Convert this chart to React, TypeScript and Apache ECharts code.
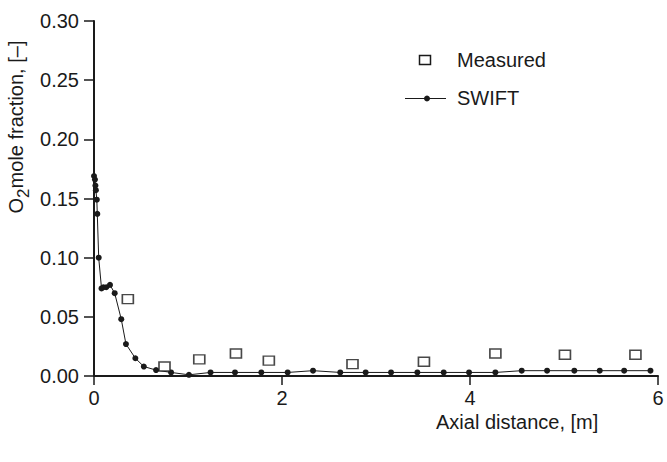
import React, { useEffect, useRef } from "react";
import * as echarts from "echarts";

// SWIFT simulation: axial distance [m], O2 mole fraction [-]
const swiftX = [0.0, 0.01, 0.015, 0.02, 0.03, 0.035, 0.05, 0.08, 0.1, 0.13, 0.17, 0.22, 0.29, 0.34, 0.44, 0.53, 0.66, 0.82, 1.01, 1.24, 1.5, 1.78, 2.06, 2.33, 2.62, 2.89, 3.16, 3.44, 3.72, 3.99, 4.27, 4.55, 4.82, 5.11, 5.38, 5.64, 5.92];
const swiftY = [0.169, 0.166, 0.161, 0.157, 0.149, 0.137, 0.1, 0.074, 0.075, 0.075, 0.077, 0.07, 0.048, 0.027, 0.015, 0.008, 0.005, 0.003, 0.001, 0.003, 0.003, 0.003, 0.003, 0.0045, 0.003, 0.003, 0.003, 0.003, 0.003, 0.003, 0.003, 0.0045, 0.0045, 0.0045, 0.0045, 0.0045, 0.0045];

// Measured data
const measX = [0.36, 0.75, 1.12, 1.51, 1.86, 2.75, 3.51, 4.27, 5.01, 5.76];
const measY = [0.065, 0.008, 0.014, 0.019, 0.013, 0.01, 0.012, 0.019, 0.018, 0.018];

const yTicks = [0, 0.05, 0.1, 0.15, 0.2, 0.25, 0.3];
const xTicks = [0, 2, 4, 6];

const FONT = "Liberation Sans, Arial, sans-serif";
const INK = "#1a1a1a";
const FS = 20;

export default function App() {
  const ref = useRef<HTMLDivElement>(null);
  useEffect(() => {
    if (!ref.current) return;
    const chart = echarts.init(ref.current, null, { renderer: "svg" });
    chart.setOption({
      animation: false,
      backgroundColor: "#ffffff",
      textStyle: { fontFamily: FONT, color: INK },
      grid: { left: 94, right: 9, top: 21, bottom: 86, containLabel: false },
      xAxis: {
        type: "value",
        min: xTicks[0],
        max: xTicks[xTicks.length - 1],
        interval: 2,
        axisLine: { show: true, onZero: false, lineStyle: { color: INK, width: 2 } },
        axisTick: { show: true, length: 9, lineStyle: { color: INK, width: 1.5 } },
        axisLabel: { fontSize: FS, color: INK, fontFamily: FONT, margin: 12, formatter: (v: number) => String(v) },
        splitLine: { show: false },
      },
      yAxis: {
        type: "value",
        min: yTicks[0],
        max: yTicks[yTicks.length - 1],
        interval: 0.05,
        axisLine: { show: true, lineStyle: { color: INK, width: 2 } },
        axisTick: { show: true, length: 10, lineStyle: { color: INK, width: 1.5 } },
        axisLabel: { fontSize: FS, color: INK, fontFamily: FONT, margin: 15, formatter: (v: number) => v.toFixed(2) },
        splitLine: { show: false },
      },
      graphic: [
        {
          type: "text",
          x: 19,
          y: 127,
          rotation: Math.PI / 2,
          style: {
            text: "{a|O}{b|2}{a|mole fraction, [–]}",
            align: "center",
            verticalAlign: "middle",
            fill: INK,
            rich: {
              a: { fontSize: FS, fontFamily: FONT, fill: INK, verticalAlign: "top", lineHeight: 22 },
              b: { fontSize: 17, fontFamily: FONT, fill: INK, verticalAlign: "bottom", lineHeight: 26 },
            },
          },
        },
        {
          type: "text",
          x: 436,
          y: 422,
          style: {
            text: "Axial distance, [m]",
            fontSize: FS,
            fontFamily: FONT,
            fill: INK,
            align: "left",
            verticalAlign: "middle",
          },
        },
        // legend: Measured
        {
          type: "rect",
          shape: { x: 419.5, y: 55.5, width: 11, height: 9 },
          style: { fill: "#ffffff", stroke: INK, lineWidth: 1.5 },
        },
        {
          type: "text",
          x: 457,
          y: 60,
          style: { text: "Measured", fontSize: FS, fontFamily: FONT, fill: INK, align: "left", verticalAlign: "middle" },
        },
        // legend: SWIFT
        {
          type: "line",
          shape: { x1: 405, y1: 98.5, x2: 446, y2: 98.5 },
          style: { stroke: INK, lineWidth: 1 },
        },
        {
          type: "circle",
          shape: { cx: 427, cy: 98.5, r: 3 },
          style: { fill: INK },
        },
        {
          type: "text",
          x: 457,
          y: 98,
          style: { text: "SWIFT", fontSize: FS, fontFamily: FONT, fill: INK, align: "left", verticalAlign: "middle" },
        },
      ],
      series: [
        {
          name: "SWIFT",
          type: "line",
          data: swiftX.map((x, i) => [x, swiftY[i]]),
          symbol: "circle",
          symbolSize: 6,
          showSymbol: true,
          lineStyle: { color: INK, width: 1 },
          itemStyle: { color: INK },
          z: 2,
        },
        {
          name: "Measured",
          type: "scatter",
          data: measX.map((x, i) => [x, measY[i]]),
          symbol: "rect",
          symbolSize: [11, 9],
          itemStyle: { color: "#ffffff", borderColor: INK, borderWidth: 1.5 },
          z: 3,
        },
      ],
    });
    return () => chart.dispose();
  }, []);
  return <div ref={ref} style={{ position: "absolute", left: 0, top: 0, width: 667, height: 462 }} />;
}
